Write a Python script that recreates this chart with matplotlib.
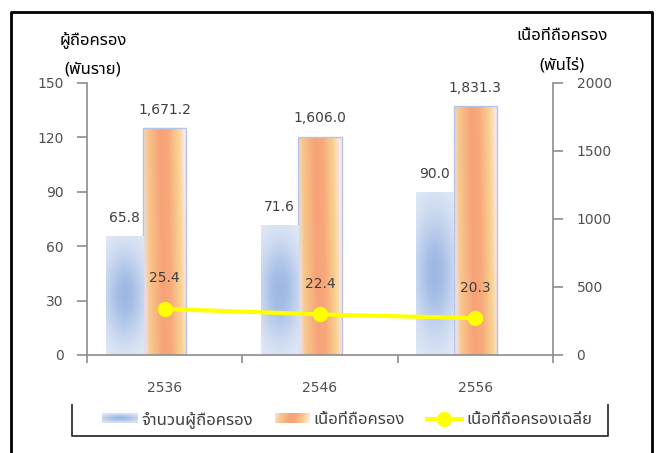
import numpy as np
import matplotlib
matplotlib.use('Agg')
import matplotlib.pyplot as plt
from matplotlib import font_manager as fm
from matplotlib.ft2font import FT2Font
from matplotlib.colors import LinearSegmentedColormap
from matplotlib.lines import Line2D
from matplotlib.patches import Patch
from matplotlib.legend_handler import HandlerBase
from matplotlib.image import BboxImage
from matplotlib.transforms import Bbox, TransformedBbox

# data
years = ['2536', '2546', '2556']
holders = [65.8, 71.6, 90.0]          # thousand holders (left axis)
area = [1671.2, 1606.0, 1831.3]       # thousand rai (right axis)
avg_area = [25.4, 22.4, 20.3]         # rai per holder (left axis)

left_ticks = [0, 30, 60, 90, 120, 150]
right_ticks = [0, 500, 1000, 1500, 2000]


def find_thai_font():
    # any installed face that has Thai glyphs
    found = []
    for f in fm.fontManager.ttflist:
        try:
            cmap = FT2Font(f.fname).get_charmap()
        except Exception:
            continue
        if 0x0E16 in cmap and 0x0E49 in cmap:
            found.append(f.name)
    for pref in ['Noto Sans Thai', 'Noto Sans Thai UI', 'Noto Sans', 'DejaVu Sans']:
        if pref in found:
            return pref
    return found[0] if found else 'DejaVu Sans'


thai = find_thai_font()
plt.rcParams['font.family'] = [thai, 'DejaVu Sans']

blue_cmap = LinearSegmentedColormap.from_list('b', ['#e6ecf7', '#c3d3ee', '#9db8e3'])
orange_cmap = LinearSegmentedColormap.from_list(
    'o', [(0.0, '#ece0f2'), (0.12, '#f8c98c'), (0.42, '#f7a278'),
          (0.6, '#f7a87a'), (0.85, '#f9d291'), (1.0, '#fbe8f0')])


def blue_grad(n=60):
    xx, yy = np.meshgrid(np.linspace(-1, 1, n), np.linspace(-1, 1, n))
    return np.exp(-(xx ** 2 * 0.8 + yy ** 2 * 1.6))


def orange_grad(n=60):
    xx, yy = np.meshgrid(np.linspace(0, 1, n), np.linspace(0, 1, n))
    return np.clip(xx + 0.08 * (yy - 0.5), 0, 1)


def fill_bars(axis, bars, img, cmap):
    for b in bars:
        x0, y0 = b.get_x(), b.get_y()
        w, h = b.get_width(), b.get_height()
        im = axis.imshow(img, extent=[x0, x0 + w, y0, y0 + h], origin='lower',
                         aspect='auto', cmap=cmap, vmin=0, vmax=1,
                         interpolation='bilinear', zorder=2)
        im.set_clip_path(b)


class GradHandler(HandlerBase):
    def __init__(self, img, cmap):
        super().__init__()
        self.img = img
        self.cmap = cmap

    def create_artists(self, legend, orig_handle, xdescent, ydescent,
                       width, height, fontsize, trans):
        bb = Bbox.from_bounds(-xdescent, -ydescent + height * 0.1, width, height * 0.8)
        im = BboxImage(TransformedBbox(bb, trans), cmap=self.cmap, norm=None,
                       interpolation='bilinear')
        im.set_data(self.img)
        im.set_clim(0, 1)
        return [im]


W, H = 660, 453
fig = plt.figure(figsize=(6.6, 4.53), dpi=100)
ax = fig.add_axes([87 / W, 1 - 355 / H, 466 / W, 272 / H])
ax2 = ax.twinx()
ax.set_zorder(2)
ax2.set_zorder(1)
ax.patch.set_visible(False)

x = np.arange(len(years))

# holders (left axis), area (right axis)
b1 = ax.bar(x - 0.26, holders, width=0.24, color='#c3d3ee', linewidth=0, zorder=1)
b2 = ax2.bar(x, area, width=0.28, color='#f8b27e', edgecolor='#b3c4e6',
             linewidth=1.0, zorder=1)
fill_bars(ax, b1, blue_grad(), blue_cmap)
fill_bars(ax2, b2, orange_grad(), orange_cmap)
for b in b2:
    b.set_facecolor('none')
    b.set_zorder(3)

# average holding line (left axis)
ax.plot(x, avg_area, color='#ffff00', lw=3, marker='o', ms=10, zorder=5)

lab_col = '#404040'
for xi, v in zip(x, holders):
    ax.annotate(f'{v:.1f}', (xi - 0.26, v), xytext=(0, 8), textcoords='offset points',
                ha='center', va='bottom', fontsize=10, color=lab_col, family='DejaVu Sans')
for xi, v in zip(x, area):
    ax2.annotate(f'{v:,.1f}', (xi, v), xytext=(0, 8), textcoords='offset points',
                 ha='center', va='bottom', fontsize=10, color=lab_col, family='DejaVu Sans')
for xi, v in zip(x, avg_area):
    ax.annotate(f'{v:.1f}', (xi, v), xytext=(0, 17), textcoords='offset points',
                ha='center', va='bottom', fontsize=10, color=lab_col, family='DejaVu Sans')

ax.set_xlim(-0.5, 2.5)
ax.set_ylim(0, 150)
ax2.set_ylim(0, 2000)
ax.set_yticks(left_ticks)
ax2.set_yticks(right_ticks)
ax.set_xticks(x)
ax.set_xticklabels(years, family='DejaVu Sans')
ax.set_xticks([-0.5, 0.5, 1.5, 2.5], minor=True)

grey = '#8c8c8c'
for a in (ax, ax2):
    a.spines['top'].set_visible(False)
    for s in a.spines.values():
        s.set_color(grey)
        s.set_linewidth(1.2)
ax.spines['right'].set_visible(False)
ax2.spines['left'].set_visible(False)
ax2.spines['bottom'].set_visible(False)

tick_col = '#505050'
ax.tick_params(axis='y', length=7, width=1.2, color=grey, pad=10, labelsize=10, labelcolor=tick_col)
ax2.tick_params(axis='y', length=7, width=1.2, color=grey, pad=10, labelsize=10, labelcolor=tick_col)
ax.tick_params(axis='x', which='major', length=0, pad=19, labelsize=10, labelcolor=tick_col)
ax.tick_params(axis='x', which='minor', length=6, width=1.2, color=grey)
for lbl in ax.get_yticklabels() + ax2.get_yticklabels():
    lbl.set_family('DejaVu Sans')

# axis titles
fig.text(93 / W, 1 - 40 / H, 'ผู้ถือครอง', ha='center', va='center', fontsize=12, color='#000000')
fig.text(93 / W, 1 - 70 / H, '(พันราย)', ha='center', va='center', fontsize=12, color='#000000')
fig.text(562 / W, 1 - 36 / H, 'เนื้อที่ถือครอง', ha='center', va='center', fontsize=12, color='#000000')
fig.text(562 / W, 1 - 66 / H, '(พันไร่)', ha='center', va='center', fontsize=12, color='#000000')

# legend
h1 = Patch(label='จำนวนผู้ถือครอง')
h2 = Patch(label='เนื้อที่ถือครอง')
h3 = Line2D([], [], color='#ffff00', lw=3, marker='o', ms=10, label='เนื้อที่ถือครองเฉลี่ย')
fig.legend(handles=[h1, h2, h3], ncol=3, loc='center', bbox_to_anchor=(347 / W, 1 - 420 / H),
           frameon=False, fontsize=12, handlelength=2.1, handletextpad=0.25, columnspacing=1.3,
           labelcolor='#404040',
           handler_map={h1: GradHandler(blue_grad(), blue_cmap),
                        h2: GradHandler(orange_grad(), orange_cmap)})

# legend box (left, bottom, right edges) and outer frame
fig.add_artist(Line2D([72 / W, 72 / W, 608 / W, 608 / W],
                      [1 - 405 / H, 1 - 436 / H, 1 - 436 / H, 1 - 405 / H],
                      color='#303030', lw=1.3))
fig.add_artist(Line2D([11 / W, 11 / W, 652 / W, 652 / W],
                      [0, 1 - 12 / H, 1 - 12 / H, 0], color='#000000', lw=2))

fig.savefig('out.png', dpi=100)
